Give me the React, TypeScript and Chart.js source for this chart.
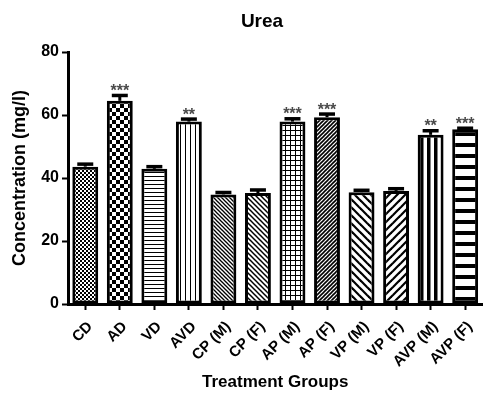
import React, { useEffect, useRef } from "react";
import { Chart, registerables } from "chart.js";

Chart.register(...registerables);

const FONT = "Arial, 'Liberation Sans', sans-serif";

const categories = ["CD", "AD", "VD", "AVD", "CP (M)", "CP (F)", "AP (M)", "AP (F)", "VP (M)", "VP (F)", "AVP (M)", "AVP (F)"];
const means = [43.6, 64.5, 42.9, 57.9, 34.8, 35.2, 57.9, 59.3, 35.5, 35.9, 53.7, 55.5];
const sems = [0.8, 1.7, 0.7, 0.8, 0.6, 1.0, 0.9, 1.0, 0.6, 0.7, 1.3, 0.3];
const significance = ["", "***", "", "**", "", "", "***", "***", "", "", "**", "***"];
const patternKinds = [
  "fineChecker", "checker", "hLinesThin", "vLinesThin", "diagDown4", "diagDown5",
  "grid", "diagUpDense", "diagDownWide", "diagUpWide", "vLinesThick", "hLinesThick",
];
const yTicks = [0, 20, 40, 60, 80];
const titleText = "Urea";
const xTitle = "Treatment Groups";
const yTitle = "Concentration (mg/l)";

function makePattern(kind: string): CanvasPattern | string {
  const c = document.createElement("canvas");
  let w = 4;
  let h = 4;
  switch (kind) {
    case "fineChecker": w = h = 4; break;
    case "checker": w = h = 8; break;
    case "hLinesThin": w = h = 4; break;
    case "vLinesThin": w = h = 5; break;
    case "diagDown4": w = h = 4; break;
    case "diagDown5": w = h = 5; break;
    case "grid": w = h = 5; break;
    case "diagUpDense": w = h = 4; break;
    case "diagDownWide": w = h = 8; break;
    case "diagUpWide": w = h = 8; break;
    case "vLinesThick": w = h = 7; break;
    case "hLinesThick": w = h = 11; break;
  }
  c.width = w;
  c.height = h;
  const ctx = c.getContext("2d")!;
  ctx.fillStyle = "#fff";
  ctx.fillRect(0, 0, w, h);
  ctx.fillStyle = "#000";
  ctx.strokeStyle = "#000";
  const diag = (p: number, lw: number, down: boolean) => {
    ctx.lineWidth = lw;
    for (const k of [-p, 0, p]) {
      ctx.beginPath();
      if (down) {
        ctx.moveTo(k - 1, -1);
        ctx.lineTo(k + p + 1, p + 1);
      } else {
        ctx.moveTo(k - 1, p + 1);
        ctx.lineTo(k + p + 1, -1);
      }
      ctx.stroke();
    }
  };
  switch (kind) {
    case "fineChecker":
      ctx.fillRect(0, 0, 2, 2);
      ctx.fillRect(2, 2, 2, 2);
      break;
    case "checker":
      ctx.fillRect(0, 0, 4, 4);
      ctx.fillRect(4, 4, 4, 4);
      break;
    case "hLinesThin":
      ctx.fillRect(0, 0, w, 1);
      break;
    case "vLinesThin":
      ctx.fillRect(0, 0, 1, h);
      break;
    case "diagDown4":
      diag(4, 1.3, true);
      break;
    case "diagDown5":
      diag(5, 1.5, true);
      break;
    case "grid":
      ctx.fillRect(0, 0, w, 1);
      ctx.fillRect(0, 0, 1, h);
      break;
    case "diagUpDense":
      diag(4, 1.6, false);
      break;
    case "diagDownWide":
      diag(8, 2.2, true);
      break;
    case "diagUpWide":
      diag(8, 2.2, false);
      break;
    case "vLinesThick":
      ctx.fillRect(0, 0, 3.5, h);
      break;
    case "hLinesThick":
      ctx.fillRect(0, 0, w, 4);
      break;
  }
  const pat = ctx.createPattern(c, "repeat");
  return pat || "#fff";
}

const errorBarPlugin = {
  id: "errorBars",
  afterDatasetsDraw(chart: any) {
    const ctx = chart.ctx;
    const meta = chart.getDatasetMeta(0);
    const y = chart.scales.y;
    ctx.save();
    ctx.strokeStyle = "#000";
    meta.data.forEach((bar: any, i: number) => {
      const x = bar.x;
      const base = y.getPixelForValue(means[i]);
      const top = y.getPixelForValue(means[i] + sems[i]);
      ctx.lineWidth = 3;
      ctx.beginPath();
      ctx.moveTo(x, base);
      ctx.lineTo(x, top);
      ctx.stroke();
      ctx.lineWidth = 3.5;
      ctx.beginPath();
      ctx.moveTo(x - 8, top);
      ctx.lineTo(x + 8, top);
      ctx.stroke();
      if (significance[i]) {
        ctx.fillStyle = "#4a4a4a";
        ctx.font = `bold 16px ${FONT}`;
        ctx.textAlign = "center";
        ctx.textBaseline = "alphabetic";
        ctx.fillText(significance[i], x, top + 0.5);
      }
    });
    ctx.restore();
  },
  afterDraw(chart: any) {
    const ctx = chart.ctx;
    ctx.save();
    ctx.fillStyle = "#000";
    ctx.font = `bold 19px ${FONT}`;
    ctx.textAlign = "center";
    ctx.textBaseline = "alphabetic";
    ctx.fillText(titleText, 262, 27);
    ctx.restore();
  },
};

export default function App() {
  const ref = useRef<HTMLCanvasElement | null>(null);
  useEffect(() => {
    if (!ref.current) return;
    const patterns = patternKinds.map(makePattern);
    const chart = new Chart(ref.current, {
      type: "bar",
      data: {
        labels: categories,
        datasets: [
          {
            data: means,
            backgroundColor: patterns as any,
            borderColor: "#000",
            borderWidth: 3,
            borderSkipped: false,
            barPercentage: 0.75,
            categoryPercentage: 1,
          },
        ],
      },
      options: {
        responsive: false,
        animation: false,
        layout: { padding: { top: 52, right: 3, bottom: 0, left: 0 } },
        plugins: {
          legend: { display: false },
          tooltip: { enabled: false },
          title: { display: false },
        },
        scales: {
          x: {
            ticks: {
              color: "#000",
              font: { family: FONT, size: 15, weight: "bold" },
              maxRotation: 45,
              minRotation: 45,
              padding: 8,
              labelOffset: 5,
              autoSkip: false,
            },
            grid: {
              offset: false,
              drawOnChartArea: false,
              drawTicks: true,
              tickLength: 6,
              tickWidth: 2,
              tickColor: "#000",
            },
            border: { display: true, color: "#000", width: 3 },
            title: {
              display: true,
              text: xTitle,
              color: "#000",
              font: { family: FONT, size: 17, weight: "bold" },
              padding: { top: 0, bottom: 0 },
            },
            afterFit: (s: any) => {
              s.height = 89;
            },
          },
          y: {
            min: 0,
            max: 80,
            afterBuildTicks: (s: any) => {
              s.ticks = yTicks.map((v) => ({ value: v }));
            },
            ticks: {
              color: "#000",
              font: { family: FONT, size: 16, weight: "bold" },
              padding: 3,
            },
            grid: {
              drawOnChartArea: false,
              drawTicks: true,
              tickLength: 6,
              tickWidth: 2,
              tickColor: "#000",
            },
            border: { display: true, color: "#000", width: 3 },
            title: {
              display: true,
              text: yTitle,
              color: "#000",
              font: { family: FONT, size: 18, weight: "bold" },
              padding: { top: 9, bottom: 0 },
            },
            afterFit: (s: any) => {
              s.width = 68;
            },
          },
        },
      } as any,
      plugins: [errorBarPlugin],
    });
    return () => chart.destroy();
  }, []);
  return (
    <div style={{ position: "absolute", left: 0, top: 0, width: 486, height: 393, background: "#fff" }}>
      <canvas ref={ref} width={486} height={393} style={{ display: "block" }} />
    </div>
  );
}
